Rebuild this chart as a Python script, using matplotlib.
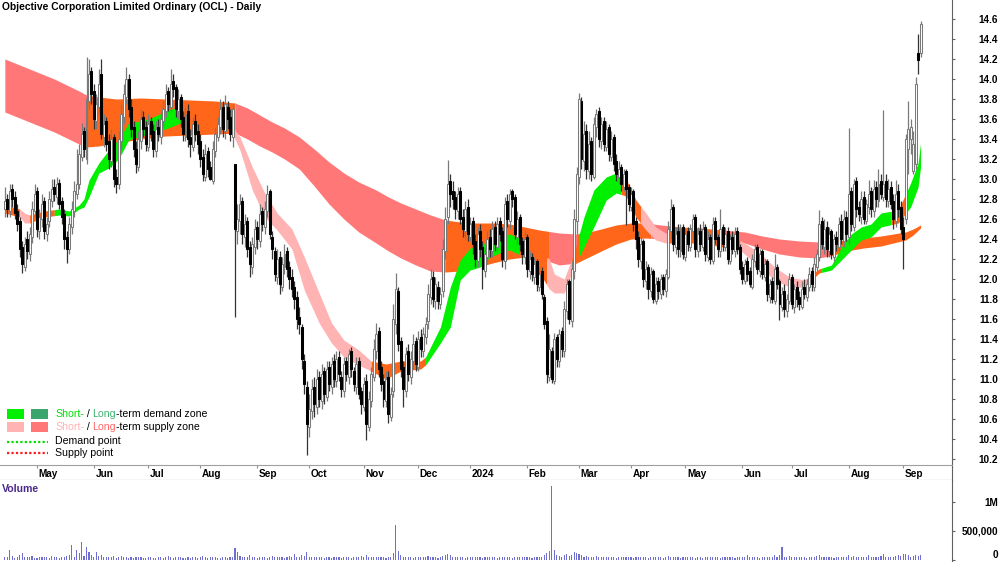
import numpy as np
import pandas as pd
import matplotlib
matplotlib.use('Agg')
import matplotlib.pyplot as plt
from matplotlib.patches import Rectangle
from matplotlib.lines import Line2D

plt.rcParams['font.family'] = ['Liberation Sans', 'DejaVu Sans']

title = 'Objective Corporation Limited Ordinary (OCL) - Daily'
dates = pd.bdate_range('2023-04-12', '2024-09-11')

opens = [
    12.70, 12.80, 12.68, 12.90, 12.82, 12.68, 12.58, 12.32, 12.12, 12.40,
    12.25, 12.42, 12.68, 12.88, 12.48, 12.60, 12.78, 12.45, 12.58, 12.78,
    12.92, 12.82, 12.96, 12.78, 12.65, 12.42, 12.30, 12.52, 12.68, 12.85,
    12.95, 13.22, 13.48, 13.20, 13.78, 14.08, 13.88, 13.58, 13.72, 14.05,
    13.42, 13.58, 13.38, 13.18, 13.42, 13.02, 12.95, 13.38, 13.62, 13.82,
    14.00, 13.72, 13.52, 13.30, 13.12, 13.38, 13.62, 13.52, 13.32, 13.58,
    13.48, 13.28, 13.52, 13.42, 13.58, 13.68, 13.88, 13.72, 13.98, 13.92,
    13.68, 13.82, 13.62, 13.42, 13.68, 13.42, 13.32, 13.58, 13.48, 13.38,
    13.22, 13.02, 13.28, 13.12, 12.98, 13.28, 13.42, 13.52, 13.72, 13.48,
    13.72, 13.62, 13.42, 13.15, 12.48, 12.58, 12.78, 12.42, 12.58, 12.32,
    12.12, 12.32, 12.52, 12.38, 12.68, 12.52, 12.68, 12.88, 12.42, 12.28,
    12.02, 12.22, 11.92, 12.12, 12.28, 12.12, 12.02, 11.92, 11.82, 11.62,
    11.52, 11.18, 10.92, 10.52, 10.68, 10.92, 10.72, 11.02, 10.78, 11.08,
    10.82, 11.12, 10.92, 11.18, 10.98, 11.22, 11.02, 10.88, 11.18, 11.02,
    11.28, 11.08, 10.92, 11.18, 10.88, 10.72, 10.98, 10.52, 10.78, 11.02,
    11.28, 11.48, 11.12, 10.98, 10.78, 11.02, 10.62, 10.88, 11.55, 11.88,
    11.38, 11.12, 10.88, 11.28, 11.02, 11.18, 11.38, 11.12, 11.42, 11.28,
    11.42, 11.58, 11.82, 12.02, 11.78, 11.92, 11.75, 11.88, 12.28, 12.62,
    12.98, 12.88, 12.82, 12.68, 12.88, 12.62, 12.48, 12.72, 12.42, 12.58,
    12.38, 12.18, 12.48, 12.32, 12.08, 12.22, 12.42, 12.28, 12.52, 12.32,
    12.58, 12.48, 12.18, 12.78, 12.58, 12.88, 12.82, 12.42, 12.62, 12.38,
    12.22, 12.42, 12.08, 12.22, 12.02, 12.18, 11.92, 12.08, 11.82, 11.58,
    11.02, 11.28, 10.98, 11.42, 11.18, 11.48, 11.28, 11.68, 11.98, 11.58,
    12.08, 12.58, 13.02, 13.78, 13.18, 13.48, 13.08, 13.38, 13.02, 13.52,
    13.68, 13.38, 13.58, 13.32, 13.52, 13.22, 13.42, 13.18, 13.02, 13.12,
    12.92, 13.08, 12.92, 12.72, 12.88, 12.58, 12.42, 12.18, 12.38, 11.98,
    12.12, 11.88, 12.08, 11.78, 11.98, 11.85, 12.02, 11.88, 12.02, 12.48,
    12.72, 12.32, 12.48, 12.28, 12.52, 12.22, 12.48, 12.32, 12.48, 12.62,
    12.28, 12.48, 12.32, 12.52, 12.22, 12.42, 12.18, 12.58, 12.42, 12.28,
    12.52, 12.32, 12.48, 12.18, 12.42, 12.28, 12.48, 12.32, 12.12, 11.98,
    12.18, 12.08, 11.92, 12.18, 12.32, 12.08, 12.28, 12.02, 12.18, 11.82,
    11.98, 11.78, 12.12, 11.98, 11.72, 11.88, 11.68, 11.78, 12.02, 11.72,
    11.92, 11.82, 11.72, 11.92, 11.82, 11.92, 12.08, 11.92, 12.12, 12.22,
    12.58, 12.32, 12.52, 12.28, 12.48, 12.22, 12.42, 12.32, 12.58, 12.38,
    12.62, 12.42, 12.88, 12.52, 12.98, 12.72, 12.62, 12.82, 12.58, 12.72,
    12.88, 12.68, 12.92, 12.78, 12.98, 12.82, 12.98, 12.78, 12.92, 12.78,
    12.58, 12.88, 12.72, 12.52, 12.60, 13.30, 13.40, 13.08, 13.15, 14.26,
    14.26,
]
highs = [
    12.92, 12.85, 12.95, 12.95, 12.88, 12.75, 12.62, 12.38, 12.42, 12.48,
    12.52, 12.78, 12.95, 12.92, 12.70, 12.85, 12.82, 12.62, 12.88, 13.00,
    13.00, 13.02, 13.00, 12.82, 12.70, 12.48, 12.62, 12.78, 12.98, 13.30,
    13.35, 13.56, 13.52, 14.22, 14.20, 14.12, 13.95, 13.85, 14.10, 14.20,
    13.65, 13.62, 13.45, 13.50, 13.45, 13.10, 13.48, 13.75, 13.95, 14.12,
    14.05, 13.80, 13.58, 13.38, 13.48, 13.70, 13.68, 13.58, 13.65, 13.62,
    13.55, 13.58, 13.60, 13.68, 13.78, 13.95, 13.92, 14.10, 14.05, 13.95,
    13.90, 13.85, 13.68, 13.72, 13.75, 13.50, 13.62, 13.65, 13.55, 13.45,
    13.30, 13.35, 13.32, 13.18, 13.38, 13.52, 13.62, 13.80, 13.78, 13.84,
    13.78, 13.70, 13.75, 13.15, 12.75, 12.85, 12.82, 12.65, 12.62, 12.38,
    12.42, 12.60, 12.58, 12.75, 12.72, 12.78, 12.94, 12.90, 12.48, 12.32,
    12.30, 12.28, 12.22, 12.35, 12.32, 12.18, 12.10, 11.98, 11.88, 11.72,
    11.55, 11.25, 10.98, 10.85, 11.00, 11.02, 11.10, 11.08, 11.15, 11.12,
    11.18, 11.18, 11.22, 11.25, 11.28, 11.28, 11.08, 11.22, 11.22, 11.30,
    11.32, 11.12, 11.22, 11.22, 10.92, 11.02, 11.05, 10.88, 11.12, 11.40,
    11.56, 11.52, 11.18, 11.05, 11.08, 11.08, 10.92, 11.75, 12.06, 11.92,
    11.42, 11.18, 11.32, 11.35, 11.28, 11.45, 11.42, 11.48, 11.50, 11.52,
    11.62, 11.95, 12.10, 12.08, 12.02, 11.98, 11.92, 12.40, 12.72, 13.19,
    13.05, 12.98, 12.88, 12.92, 12.92, 12.70, 12.78, 12.80, 12.62, 12.62,
    12.45, 12.52, 12.55, 12.38, 12.32, 12.48, 12.50, 12.58, 12.58, 12.62,
    12.62, 12.52, 12.82, 12.85, 12.90, 12.90, 12.85, 12.68, 12.65, 12.42,
    12.48, 12.45, 12.28, 12.26, 12.22, 12.20, 12.12, 12.12, 11.85, 11.62,
    11.45, 11.32, 11.46, 11.45, 11.50, 11.52, 11.78, 12.00, 12.00, 12.18,
    12.70, 13.12, 13.86, 13.82, 13.58, 13.55, 13.48, 13.42, 13.62, 13.70,
    13.72, 13.62, 13.62, 13.58, 13.55, 13.48, 13.45, 13.25, 13.18, 13.15,
    13.10, 13.10, 12.95, 12.92, 12.90, 12.62, 12.48, 12.42, 12.40, 12.18,
    12.15, 12.12, 12.10, 12.02, 12.02, 12.05, 12.05, 12.10, 12.58, 12.80,
    12.75, 12.52, 12.55, 12.55, 12.55, 12.50, 12.52, 12.55, 12.65, 12.65,
    12.52, 12.55, 12.58, 12.55, 12.48, 12.45, 12.62, 12.62, 12.45, 12.70,
    12.55, 12.52, 12.52, 12.45, 12.48, 12.52, 12.52, 12.35, 12.18, 12.20,
    12.22, 12.12, 12.25, 12.35, 12.35, 12.30, 12.30, 12.20, 12.20, 12.00,
    12.02, 12.25, 12.15, 12.00, 11.92, 11.95, 11.85, 12.06, 12.05, 11.95,
    11.98, 11.88, 11.98, 12.00, 12.00, 12.12, 12.12, 12.22, 12.30, 12.69,
    12.62, 12.60, 12.58, 12.52, 12.50, 12.45, 12.48, 12.62, 12.65, 12.69,
    12.68, 13.51, 12.92, 13.00, 13.02, 12.78, 12.88, 12.88, 12.80, 12.99,
    12.92, 12.99, 12.98, 13.10, 13.05, 13.69, 13.05, 13.00, 12.98, 12.85,
    12.99, 12.95, 12.78, 12.62, 13.45, 13.78, 13.60, 13.48, 14.02, 14.45,
    14.58,
]
lows = [
    12.62, 12.62, 12.62, 12.72, 12.60, 12.48, 12.22, 12.06, 12.08, 12.20,
    12.18, 12.36, 12.62, 12.42, 12.40, 12.52, 12.40, 12.38, 12.52, 12.72,
    12.78, 12.75, 12.70, 12.55, 12.30, 12.16, 12.25, 12.45, 12.62, 12.80,
    12.90, 13.18, 13.22, 13.15, 13.70, 13.75, 13.50, 13.50, 13.65, 13.40,
    13.32, 13.28, 13.10, 13.12, 12.92, 12.86, 12.90, 13.30, 13.55, 13.75,
    13.62, 13.42, 13.22, 13.06, 13.08, 13.30, 13.42, 13.28, 13.28, 13.38,
    13.22, 13.22, 13.38, 13.35, 13.52, 13.62, 13.68, 13.68, 13.82, 13.62,
    13.60, 13.52, 13.38, 13.38, 13.32, 13.22, 13.28, 13.38, 13.25, 13.12,
    12.98, 12.98, 13.02, 12.99, 12.95, 13.22, 13.38, 13.45, 13.42, 13.40,
    13.50, 13.38, 13.32, 11.62, 12.35, 12.45, 12.35, 12.32, 12.22, 12.02,
    12.05, 12.25, 12.30, 12.32, 12.48, 12.45, 12.62, 12.40, 12.20, 11.98,
    11.95, 11.85, 11.88, 12.05, 12.02, 11.90, 11.82, 11.70, 11.50, 11.45,
    11.10, 10.85, 10.24, 10.42, 10.60, 10.62, 10.65, 10.72, 10.70, 10.75,
    10.78, 10.88, 10.85, 10.92, 10.92, 10.98, 10.82, 10.82, 10.98, 10.95,
    11.02, 10.88, 10.85, 10.80, 10.65, 10.68, 10.39, 10.48, 10.72, 10.98,
    11.20, 11.02, 10.88, 10.72, 10.72, 10.56, 10.58, 10.82, 11.45, 11.28,
    11.02, 10.72, 10.82, 10.98, 10.95, 11.10, 11.08, 11.08, 11.22, 11.22,
    11.35, 11.50, 11.75, 11.72, 11.70, 11.70, 11.70, 11.82, 12.20, 12.55,
    12.72, 12.70, 12.60, 12.60, 12.55, 12.42, 12.40, 12.38, 12.38, 12.25,
    12.12, 12.12, 12.22, 11.90, 12.02, 12.15, 12.22, 12.22, 12.28, 12.28,
    12.38, 12.12, 12.10, 12.52, 12.50, 12.72, 12.40, 12.35, 12.28, 12.15,
    12.15, 12.02, 12.00, 11.98, 11.95, 11.88, 11.88, 11.80, 11.50, 10.96,
    10.98, 10.96, 10.95, 11.12, 11.12, 11.22, 11.22, 11.60, 11.55, 11.52,
    12.00, 12.45, 12.95, 13.10, 13.08, 13.00, 13.00, 12.98, 13.00, 13.42,
    13.32, 13.30, 13.28, 13.28, 13.18, 13.18, 13.08, 12.98, 12.95, 12.88,
    12.88, 12.54, 12.68, 12.68, 12.48, 12.30, 12.12, 12.10, 11.92, 11.90,
    11.80, 11.82, 11.76, 11.75, 11.80, 11.80, 11.84, 11.82, 12.00, 12.40,
    12.28, 12.25, 12.22, 12.22, 12.20, 12.18, 12.28, 12.28, 12.40, 12.22,
    12.22, 12.28, 12.28, 12.18, 12.18, 12.15, 12.15, 12.35, 12.22, 12.22,
    12.28, 12.28, 12.15, 12.15, 12.25, 12.22, 12.25, 12.05, 11.95, 11.95,
    11.98, 11.92, 11.90, 12.12, 12.05, 12.02, 12.00, 11.98, 11.78, 11.76,
    11.76, 11.75, 11.90, 11.59, 11.68, 11.62, 11.62, 11.75, 11.70, 11.66,
    11.72, 11.69, 11.70, 11.80, 11.78, 11.88, 11.88, 11.88, 12.08, 12.18,
    12.30, 12.25, 12.22, 12.22, 12.20, 12.18, 12.28, 12.28, 12.35, 12.32,
    12.38, 12.35, 12.48, 12.48, 12.62, 12.58, 12.55, 12.55, 12.55, 12.65,
    12.62, 12.62, 12.72, 12.72, 12.80, 12.78, 12.72, 12.72, 12.70, 12.50,
    12.52, 12.62, 12.45, 12.10, 12.55, 13.05, 13.25, 13.05, 13.10, 14.05,
    14.22,
]
closes = [
    12.78, 12.70, 12.88, 12.80, 12.66, 12.55, 12.30, 12.15, 12.35, 12.28,
    12.45, 12.70, 12.85, 12.50, 12.62, 12.75, 12.48, 12.55, 12.80, 12.90,
    12.85, 12.95, 12.75, 12.62, 12.40, 12.30, 12.55, 12.70, 12.88, 12.95,
    13.25, 13.45, 13.30, 13.80, 14.05, 13.85, 13.60, 13.75, 13.95, 13.45,
    13.55, 13.35, 13.20, 13.40, 13.00, 12.95, 13.40, 13.65, 13.85, 14.00,
    13.70, 13.50, 13.30, 13.15, 13.40, 13.60, 13.50, 13.35, 13.55, 13.45,
    13.30, 13.50, 13.45, 13.60, 13.70, 13.85, 13.75, 13.95, 13.90, 13.70,
    13.80, 13.60, 13.45, 13.65, 13.40, 13.35, 13.55, 13.45, 13.35, 13.20,
    13.05, 13.25, 13.10, 13.00, 13.30, 13.45, 13.55, 13.70, 13.50, 13.75,
    13.60, 13.45, 13.70, 12.50, 12.60, 12.75, 12.45, 12.55, 12.30, 12.15,
    12.35, 12.50, 12.40, 12.65, 12.55, 12.70, 12.85, 12.45, 12.30, 12.05,
    12.20, 11.95, 12.15, 12.25, 12.10, 12.00, 11.90, 11.80, 11.60, 11.55,
    11.20, 10.95, 10.55, 10.70, 10.90, 10.75, 11.00, 10.80, 11.05, 10.85,
    11.10, 10.95, 11.15, 11.00, 11.20, 11.05, 10.90, 11.15, 11.05, 11.25,
    11.10, 10.95, 11.15, 10.85, 10.75, 10.95, 10.55, 10.80, 11.05, 11.30,
    11.45, 11.10, 10.95, 10.80, 11.00, 10.65, 10.85, 11.60, 11.90, 11.35,
    11.10, 10.90, 11.25, 11.05, 11.20, 11.35, 11.15, 11.40, 11.30, 11.45,
    11.55, 11.85, 12.00, 11.80, 11.95, 11.78, 11.85, 12.30, 12.60, 12.95,
    12.85, 12.80, 12.70, 12.85, 12.60, 12.50, 12.70, 12.45, 12.55, 12.35,
    12.20, 12.45, 12.30, 12.10, 12.25, 12.40, 12.30, 12.50, 12.35, 12.55,
    12.45, 12.20, 12.75, 12.60, 12.85, 12.80, 12.45, 12.60, 12.35, 12.25,
    12.40, 12.10, 12.20, 12.05, 12.15, 11.95, 12.05, 11.85, 11.55, 11.05,
    11.30, 11.00, 11.40, 11.20, 11.45, 11.30, 11.70, 11.95, 11.60, 12.10,
    12.60, 13.05, 13.80, 13.20, 13.45, 13.10, 13.35, 13.05, 13.55, 13.65,
    13.40, 13.55, 13.35, 13.50, 13.25, 13.40, 13.15, 13.05, 13.10, 12.95,
    13.05, 12.90, 12.75, 12.85, 12.55, 12.40, 12.20, 12.35, 12.00, 12.10,
    11.90, 12.05, 11.80, 11.95, 11.88, 12.00, 11.90, 12.05, 12.50, 12.70,
    12.35, 12.45, 12.30, 12.50, 12.25, 12.45, 12.35, 12.50, 12.60, 12.30,
    12.45, 12.35, 12.50, 12.25, 12.40, 12.20, 12.55, 12.40, 12.30, 12.50,
    12.35, 12.45, 12.20, 12.40, 12.30, 12.45, 12.30, 12.10, 12.00, 12.15,
    12.05, 11.95, 12.20, 12.30, 12.10, 12.25, 12.05, 12.15, 11.85, 11.95,
    11.80, 12.10, 11.95, 11.75, 11.85, 11.70, 11.80, 12.00, 11.75, 11.90,
    11.80, 11.75, 11.90, 11.85, 11.95, 12.05, 11.95, 12.15, 12.25, 12.55,
    12.35, 12.50, 12.30, 12.45, 12.25, 12.40, 12.35, 12.55, 12.40, 12.60,
    12.45, 12.85, 12.55, 12.95, 12.70, 12.65, 12.80, 12.60, 12.75, 12.85,
    12.70, 12.90, 12.80, 12.95, 12.85, 12.95, 12.80, 12.90, 12.75, 12.60,
    12.85, 12.70, 12.50, 12.40, 13.40, 13.50, 13.52, 13.35, 13.95, 14.19,
    14.55,
]
# volume in thousands of shares
volume_k = [
    60, 45, 180, 70, 40, 55, 90, 120, 60, 50,
    45, 70, 40, 35, 55, 60, 45, 50, 40, 65,
    50, 45, 40, 60, 55, 70, 80, 260, 60, 180,
    120, 310, 70, 220, 130, 80, 60, 140, 70, 90,
    55, 45, 60, 50, 70, 40, 55, 65, 50, 45,
    40, 50, 35, 60, 45, 55, 40, 35, 50, 45,
    40, 35, 45, 55, 40, 50, 65, 45, 40, 55,
    60, 45, 40, 35, 50, 40, 45, 55, 40, 60,
    70, 45, 40, 55, 50, 45, 35, 40, 50, 45,
    40, 55, 60, 210, 140, 70, 60, 55, 45, 80,
    50, 45, 40, 55, 60, 45, 40, 50, 65, 55,
    45, 60, 50, 40, 45, 70, 55, 110, 60, 50,
    90, 70, 130, 60, 55, 50, 45, 60, 50, 40,
    45, 55, 40, 50, 45, 60, 40, 55, 45, 50,
    40, 45, 55, 50, 65, 45, 80, 60, 50, 55,
    60, 45, 50, 55, 40, 60, 50, 120, 610, 150,
    90, 60, 50, 45, 55, 40, 50, 45, 60, 55,
    50, 65, 55, 45, 50, 40, 45, 70, 90, 110,
    80, 60, 50, 55, 45, 60, 40, 50, 45, 55,
    50, 45, 55, 40, 50, 45, 60, 50, 45, 40,
    55, 45, 50, 60, 45, 40, 55, 50, 45, 60,
    50, 45, 55, 40, 50, 60, 45, 55, 90, 120,
    150, 1270, 180, 90, 70, 60, 80, 110, 70, 90,
    140, 120, 100, 80, 60, 70, 55, 60, 50, 65,
    55, 45, 50, 60, 45, 55, 50, 40, 60, 45,
    55, 60, 45, 50, 40, 55, 45, 60, 50, 45,
    40, 55, 45, 50, 60, 45, 40, 50, 75, 60,
    50, 45, 55, 40, 50, 60, 45, 55, 50, 40,
    45, 55, 40, 50, 45, 60, 50, 45, 55, 40,
    50, 45, 55, 60, 45, 40, 55, 50, 60, 45,
    90, 55, 45, 50, 60, 40, 45, 55, 50, 60,
    45, 80, 50, 90, 220, 60, 55, 70, 50, 45,
    60, 55, 45, 50, 40, 55, 60, 50, 70, 80,
    55, 60, 45, 50, 55, 40, 60, 45, 50, 55,
    45, 90, 60, 70, 50, 45, 55, 60, 45, 80,
    50, 55, 60, 45, 70, 100, 55, 60, 45, 50,
    65, 80, 70, 110, 95, 85, 60, 70, 90, 75,
    80,
]

# long-term zone edges, sampled at trading-day index
long_idx = [0, 5, 10, 15, 20, 25, 30, 33, 38, 45, 55, 65, 75, 85, 93, 98, 103,
            108, 113, 119, 125, 131, 137, 143, 150, 155, 160, 166, 172, 178,
            184, 190, 197, 204, 210, 216, 224, 231, 236, 241, 247, 253, 259,
            265, 273, 281, 290, 299, 306, 313, 321, 329, 335, 340, 347, 354,
            359, 364, 367, 370]
long_top = [14.20, 14.15, 14.10, 14.05, 14.00, 13.94, 13.88, 13.84, 13.82,
            13.80, 13.81, 13.80, 13.79, 13.78, 13.76, 13.71, 13.64, 13.57,
            13.51, 13.42, 13.30, 13.17, 13.06, 12.97, 12.89, 12.82, 12.76,
            12.70, 12.64, 12.59, 12.57, 12.56, 12.56, 12.55, 12.52, 12.49,
            12.46, 12.45, 12.47, 12.50, 12.54, 12.56, 12.56, 12.54, 12.52,
            12.51, 12.49, 12.47, 12.43, 12.40, 12.38, 12.37, 12.38, 12.39,
            12.41, 12.43, 12.45, 12.47, 12.50, 12.54]
long_bot = [13.67, 13.62, 13.57, 13.52, 13.47, 13.41, 13.35, 13.32, 13.33,
            13.36, 13.40, 13.43, 13.44, 13.45, 13.46, 13.40, 13.33, 13.27,
            13.20, 13.10, 12.93, 12.75, 12.60, 12.47, 12.36, 12.28, 12.21,
            12.14, 12.08, 12.07, 12.08, 12.11, 12.16, 12.20, 12.22, 12.21,
            12.14, 12.16, 12.22, 12.28, 12.35, 12.40, 12.41, 12.40, 12.39,
            12.39, 12.38, 12.36, 12.30, 12.25, 12.22, 12.21, 12.24, 12.28,
            12.31, 12.33, 12.36, 12.39, 12.44, 12.51]
long_breaks = [0, 33, 93, 178, 220, 231, 261, 268, 290, 334, 370]
long_state = ['supply', 'mixed', 'supply', 'mixed', 'supply', 'mixed',
              'supply', 'mixed', 'supply', 'mixed']

# short-term zone edges
short_idx = [0, 6, 8, 10, 16, 22, 26, 30, 32, 34, 38, 42, 46, 50, 55, 59, 67,
             71, 77, 83, 92, 95, 100, 105, 110, 116, 121, 127, 132, 137, 143,
             148, 154, 160, 168, 170, 176, 180, 184, 188, 192, 196, 200, 204,
             210, 216, 220, 222, 226, 230, 234, 238, 243, 247, 251, 255, 259,
             263, 267, 281, 297, 305, 311, 317, 323, 329, 334, 338, 342, 346,
             350, 354, 361, 366, 369, 370]
short_top = [12.74, 12.70, 12.66, 12.64, 12.68, 12.70, 12.68, 12.74, 12.80,
             12.99, 13.16, 13.29, 13.40, 13.56, 13.58, 13.61, 13.70, 13.72,
             13.62, 13.58, 13.52, 13.42, 13.12, 12.86, 12.66, 12.50, 12.22,
             11.86, 11.56, 11.39, 11.29, 11.18, 11.15, 11.18, 11.18, 11.22,
             11.52, 11.92, 12.19, 12.31, 12.33, 12.39, 12.42, 12.45, 12.39,
             12.26, 12.20, 12.05, 12.00, 12.26, 12.62, 12.89, 13.02, 13.06,
             13.00, 12.79, 12.66, 12.52, 12.46, 12.46, 12.39, 12.26, 12.12,
             12.02, 11.99, 12.10, 12.14, 12.32, 12.45, 12.52, 12.55, 12.66,
             12.69, 12.96, 13.16, 13.36]
short_bot = [12.66, 12.62, 12.56, 12.56, 12.62, 12.64, 12.63, 12.70, 12.72,
             12.82, 13.06, 13.11, 13.20, 13.39, 13.43, 13.45, 13.52, 13.56,
             13.50, 13.48, 13.45, 13.29, 12.89, 12.62, 12.49, 12.30, 11.89,
             11.56, 11.36, 11.22, 11.14, 11.08, 11.00, 11.08, 11.10, 11.14,
             11.36, 11.52, 11.99, 12.09, 12.12, 12.22, 12.26, 12.29, 12.22,
             12.06, 11.90, 11.86, 11.86, 12.12, 12.32, 12.52, 12.79, 12.86,
             12.83, 12.62, 12.49, 12.39, 12.36, 12.36, 12.29, 12.12, 11.99,
             11.92, 11.92, 12.06, 12.09, 12.19, 12.29, 12.39, 12.42, 12.52,
             12.56, 12.72, 12.92, 13.12]
short_breaks = [0, 6, 10, 20, 71, 92, 148, 170, 208, 219, 229, 232, 249, 257,
                268, 297, 327, 330, 358, 364, 370]
short_state = ['mixed', 'supply', 'mixed', 'demand', 'mixed', 'supply',
               'mixed', 'demand', 'mixed', 'supply', 'mixed', 'demand',
               'mixed', 'supply', 'mixed', 'supply', 'mixed', 'demand',
               'mixed', 'demand']

price_ticks = [10.2, 10.4, 10.6, 10.8, 11.0, 11.2, 11.4, 11.6, 11.8, 12.0,
               12.2, 12.4, 12.6, 12.8, 13.0, 13.2, 13.4, 13.6, 13.8, 14.0,
               14.2, 14.4, 14.6]
vol_ticks = [0, 500000, 1000000]
vol_labels = ['0', '500,000', '1M']

long_col = {'supply': '#ff7777', 'mixed': '#ff661a'}
short_col = {'supply': '#ffb3b3', 'mixed': '#ff661a', 'demand': '#00f000'}

o = np.array(opens)
h = np.array(highs)
lo = np.array(lows)
c = np.array(closes)
n = len(c)
xi = np.arange(n)
W, H = 1000, 562

fig = plt.figure(figsize=(10, 5.62), dpi=100)
ax = fig.add_axes([0, 97 / H, 952 / W, 465 / H])
ax_s = fig.add_axes([0, 82 / H, 952 / W, 15 / H])
ax_v = fig.add_axes([0, 0, 952 / W, 82 / H])

xlim = (-1.95, 382.7)

# zones
lt = np.interp(xi, long_idx, long_top)
lb = np.interp(xi, long_idx, long_bot)
for k, st in enumerate(long_state):
    m = (xi >= long_breaks[k]) & (xi <= long_breaks[k + 1])
    ax.fill_between(xi[m], lb[m], lt[m], color=long_col[st], lw=0, zorder=1)
st_ = np.interp(xi, short_idx, short_top)
sb_ = np.interp(xi, short_idx, short_bot)
for k, st in enumerate(short_state):
    m = (xi >= short_breaks[k]) & (xi <= short_breaks[k + 1])
    ax.fill_between(xi[m], sb_[m], st_[m], color=short_col[st], lw=0, zorder=2)

# candles
up = c >= o
ax.vlines(xi[up], lo[up], h[up], color='#7a7a7a', lw=0.9, zorder=3)
ax.vlines(xi[~up], lo[~up], h[~up], color='#333333', lw=0.9, zorder=3)
body = np.maximum(np.abs(c - o), 0.012)
ax.bar(xi[up], body[up], bottom=np.minimum(o, c)[up], width=0.8,
       color='white', edgecolor='#7a7a7a', linewidth=0.75, zorder=4)
ax.bar(xi[~up], body[~up], bottom=np.minimum(o, c)[~up], width=0.8,
       color='black', edgecolor='black', linewidth=0.75, zorder=4)

ax.set_xlim(*xlim)
ax.set_ylim(10.14, 14.79)
ax.set_xticks([])
for s in ['top', 'left', 'bottom']:
    ax.spines[s].set_visible(False)
ax.spines['right'].set_color('#606060')
ax.yaxis.tick_right()
ax.set_yticks(price_ticks)
ax.set_yticklabels(['%.1f' % t for t in price_ticks])
ax.tick_params(axis='y', length=2.5, color='#606060', pad=30.5,
               labelsize=7.2, labelcolor='black')
for lab in ax.get_yticklabels():
    lab.set_horizontalalignment('right')
    lab.set_fontweight('bold')

# month strip
month_pos = []
month_lab = []
prev = None
for i, d in enumerate(dates):
    if d.month != prev:
        if i > 0:
            month_pos.append(i)
            month_lab.append(str(d.year) if d.month == 1 else d.strftime('%b'))
        prev = d.month
ax_s.set_xlim(*xlim)
ax_s.set_ylim(0, 1)
ax_s.set_yticks([])
ax_s.xaxis.tick_top()
ax_s.set_xticks(month_pos)
ax_s.tick_params(axis='x', direction='in', length=2.5, color='#909090',
                 labeltop=False, labelbottom=False)
for p, t in zip(month_pos, month_lab):
    ax_s.text(p + 0.6, 0.42, t, ha='left', va='center', fontsize=7.2,
              fontweight='bold')
ax_s.spines['left'].set_visible(False)
ax_s.spines['top'].set_color('#a0a0a0')
ax_s.spines['bottom'].set_color('#505050')
ax_s.spines['right'].set_color('#606060')

# volume
vol = np.array(volume_k) * 1000.0
ax_v.bar(xi, vol, width=0.45, color='#6f6fcf', zorder=2)
ax_v.set_xlim(*xlim)
ax_v.set_ylim(-500000 * 2 / 29, 500000 * 80 / 29)
ax_v.set_xticks([])
for s in ['top', 'left', 'bottom']:
    ax_v.spines[s].set_visible(False)
ax_v.spines['right'].set_color('#606060')
ax_v.yaxis.tick_right()
ax_v.set_yticks(vol_ticks)
ax_v.set_yticklabels(vol_labels)
ax_v.tick_params(axis='y', length=2.5, color='#606060', pad=30.5,
                 labelsize=7.2)
for lab in ax_v.get_yticklabels():
    lab.set_horizontalalignment('right')
    lab.set_fontweight('bold')
ax_v.get_yticklabels()[0].set_verticalalignment('bottom')
ax_v.text(0.002, 0.895, 'Volume', transform=ax_v.transAxes, fontsize=7.6,
          fontweight='bold', color='#4a2a8c', va='center', ha='left')

# title
fig.text(2 / W, 1 - 7 / H, title, fontsize=7.4, fontweight='bold',
         va='center', ha='left')


# legend
def fx(px):
    return px / W


def fy(py):
    return 1 - py / H


fig.add_artist(Rectangle((fx(7), fy(419)), 17 / W, 10 / H, transform=fig.transFigure,
                         color='#00f000', lw=0))
fig.add_artist(Rectangle((fx(31), fy(419)), 17 / W, 10 / H, transform=fig.transFigure,
                         color='#3ca56e', lw=0))
fig.add_artist(Rectangle((fx(7), fy(432)), 17 / W, 10 / H, transform=fig.transFigure,
                         color='#ffb3b3', lw=0))
fig.add_artist(Rectangle((fx(31), fy(432)), 17 / W, 10 / H, transform=fig.transFigure,
                         color='#ff7777', lw=0))
fig.add_artist(Line2D([fx(7), fx(48)], [fy(441.5), fy(441.5)], transform=fig.transFigure,
                      color='#00e000', lw=1.6, linestyle=(0, (1, 1))))
fig.add_artist(Line2D([fx(7), fx(48)], [fy(453), fy(453)], transform=fig.transFigure,
                      color='#ff1a1a', lw=1.6, linestyle=(0, (1, 1))))


def colored_text(x_px, y_px, parts):
    t = fig.text(fx(x_px), fy(y_px), parts[0][0], color=parts[0][1],
                 fontsize=7.6, ha='left', va='center')
    for s, col in parts[1:]:
        t = ax.annotate(s, xy=(1, 0), xycoords=t, color=col, fontsize=7.6,
                        ha='left', va='bottom', annotation_clip=False)


colored_text(55, 414, [('Short-', '#00dd00'), (' / ', 'black'),
                       ('Long', '#3cb371'), ('-term demand zone', 'black')])
colored_text(55, 427, [('Short-', '#ffb3b3'), (' / ', 'black'),
                       ('Long', '#ff6666'), ('-term supply zone', 'black')])
colored_text(55, 441.5, [('Demand point', 'black')])
colored_text(55, 453, [('Supply point', 'black')])

fig.savefig('out.png', dpi=100)
